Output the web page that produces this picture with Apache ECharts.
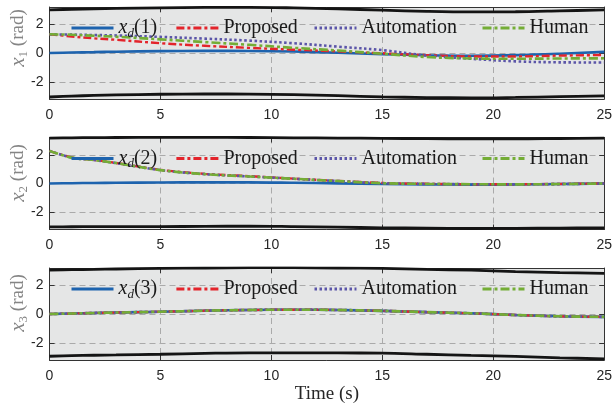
<!DOCTYPE html>
<html>
<head>
<meta charset="utf-8">
<script src="https://cdn.jsdelivr.net/npm/echarts@6/dist/echarts.min.js"></script>
<style>
html,body{margin:0;padding:0;background:#fff;}
#chart{width:615px;height:412px;}
</style>
</head>
<body>
<div id="chart"></div>
<script>
// sample times (s)
const time = [0, 1, 2, 3, 5, 7, 9, 11, 13, 15, 17, 19, 21, 23, 25];

// joint 1
const xd1         = [0, 0.03, 0.06, 0.09, 0.13, 0.15, 0.14, 0.10, 0.02, -0.08, -0.16, -0.19, -0.15, -0.05, 0.08];
const proposed1   = [1.30, 1.15, 1.02, 0.92, 0.68, 0.50, 0.36, 0.23, 0.11, -0.02, -0.15, -0.24, -0.24, -0.18, -0.14];
const automation1 = [1.30, 1.28, 1.25, 1.22, 1.12, 1.00, 0.86, 0.68, 0.44, 0.20, -0.18, -0.40, -0.58, -0.65, -0.66];
const human1      = [1.30, 1.27, 1.20, 1.13, 0.95, 0.76, 0.57, 0.36, 0.17, -0.05, -0.28, -0.38, -0.40, -0.38, -0.37];
const upper1      = [3.00, 3.04, 3.07, 3.10, 3.14, 3.17, 3.18, 3.14, 3.07, 2.98, 2.90, 2.86, 2.87, 2.93, 3.00];
const lower1      = [-3.06, -3.00, -2.95, -2.92, -2.87, -2.85, -2.86, -2.90, -2.97, -3.05, -3.10, -3.12, -3.09, -3.04, -2.98];

// joint 2
const xd2         = [0, 0.02, 0.04, 0.05, 0.07, 0.08, 0.08, 0.05, 0.01, -0.03, -0.06, -0.08, -0.07, -0.04, 0];
const proposed2   = [2.27, 1.82, 1.64, 1.43, 0.95, 0.67, 0.51, 0.34, 0.18, 0.04, -0.02, -0.05, -0.05, -0.03, 0.01];
const automation2 = [2.27, 1.80, 1.63, 1.42, 0.93, 0.65, 0.49, 0.33, 0.17, 0.02, -0.03, -0.05, -0.06, -0.04, 0];
const human2      = [2.27, 1.80, 1.63, 1.42, 0.93, 0.65, 0.49, 0.33, 0.17, 0.02, -0.03, -0.05, -0.06, -0.04, 0];
const upper2      = [3.16, 3.18, 3.19, 3.20, 3.21, 3.21, 3.20, 3.18, 3.16, 3.14, 3.12, 3.10, 3.10, 3.13, 3.16];
const lower2      = [-3.02, -3.01, -3.00, -3.00, -3.00, -2.98, -2.97, -3.00, -3.04, -3.08, -3.11, -3.13, -3.12, -3.10, -3.09];

// joint 3
const xd3         = [0, 0.03, 0.07, 0.10, 0.16, 0.23, 0.28, 0.30, 0.28, 0.22, 0.13, 0.05, -0.07, -0.16, -0.20];
const proposed3   = [0, 0.03, 0.07, 0.10, 0.16, 0.23, 0.28, 0.30, 0.28, 0.22, 0.13, 0.05, -0.07, -0.16, -0.20];
const automation3 = [0, 0.03, 0.07, 0.10, 0.16, 0.23, 0.28, 0.30, 0.28, 0.22, 0.13, 0.05, -0.07, -0.16, -0.20];
const human3      = [0, 0.03, 0.07, 0.10, 0.16, 0.23, 0.28, 0.30, 0.28, 0.22, 0.13, 0.05, -0.07, -0.16, -0.20];
const upper3      = [3.05, 3.08, 3.10, 3.13, 3.17, 3.20, 3.22, 3.22, 3.20, 3.17, 3.10, 3.05, 2.95, 2.88, 2.83];
const lower3      = [-2.94, -2.90, -2.87, -2.85, -2.80, -2.74, -2.70, -2.70, -2.71, -2.72, -2.80, -2.88, -2.95, -3.05, -3.12];

// axes
const xTicks = [0, 5, 10, 15, 20, 25];
const yTicks = [-2, 0, 2];
const yRange = [-3.2, 3.2];
const seriesNames = ['Proposed', 'Automation', 'Human'];
const refNames = ['xd1', 'xd2', 'xd3'];

const panels = [
  {xd: xd1, p: proposed1, a: automation1, h: human1, up: upper1, lo: lower1},
  {xd: xd2, p: proposed2, a: automation2, h: human2, up: upper2, lo: lower2},
  {xd: xd3, p: proposed3, a: automation3, h: human3, up: upper3, lo: lower3}
];

const gridTops = [7, 137.5, 268];
const gridH = 92;
const gridLeft = 49.5;
const gridW = 560;

const pair = arr => arr.map((v, i) => [time[i], v]);

const tickColor = '#262626';
const serif = '"Liberation Serif", "Times New Roman", serif';
const sans = '"Liberation Sans", Arial, sans-serif';

const styles = {
  ref:  {color: '#1d63ae', width: 2.6, type: 'solid'},
  Proposed:   {color: '#e3242b', width: 2.4, type: [8, 3, 3, 3]},
  Automation: {color: '#5b55a8', width: 2.6, type: [2.5, 2.5]},
  Human:      {color: '#74ad36', width: 2.6, type: [9, 3, 3, 3]}
};

const grid = [], xAxis = [], yAxis = [], series = [], legend = [], graphic = [];

panels.forEach((pn, k) => {
  grid.push({left: gridLeft, top: gridTops[k], width: gridW, height: gridH,
    show: true, backgroundColor: '#e5e6e6', borderWidth: 0});

  // bottom axis with labels
  xAxis.push({
    type: 'value', gridIndex: k, min: xTicks[0], max: xTicks[xTicks.length - 1], interval: 5,
    position: 'bottom',
    axisLine: {show: true, onZero: false, lineStyle: {color: '#333', width: 1}},
    axisTick: {show: true, inside: true, length: 5, lineStyle: {color: '#333'}},
    axisLabel: {show: true, margin: 9, color: tickColor, fontFamily: sans, fontSize: 14},
    splitLine: {show: true, lineStyle: {color: '#aaaaaa', type: [6, 4], width: 1}},
    name: k === 2 ? 'Time (s)' : '',
    nameLocation: 'middle', nameGap: 25,
    nameTextStyle: {fontFamily: serif, fontSize: 19, color: tickColor}
  });
  // top border
  xAxis.push({
    type: 'value', gridIndex: k, min: xTicks[0], max: xTicks[xTicks.length - 1], interval: 5,
    position: 'top',
    axisLine: {show: true, onZero: false, lineStyle: {color: '#333', width: 1}},
    axisTick: {show: true, inside: true, length: 5, lineStyle: {color: '#333'}},
    axisLabel: {show: false}, splitLine: {show: false}
  });
  // left axis with labels
  yAxis.push({
    type: 'value', gridIndex: k, min: yRange[0], max: yRange[1],
    position: 'left',
    axisLine: {show: true, onZero: false, lineStyle: {color: '#333', width: 1}},
    axisTick: {show: true, inside: true, length: 5, customValues: yTicks, lineStyle: {color: '#333'}},
    axisLabel: {show: true, margin: 6, customValues: yTicks, color: tickColor, fontFamily: sans, fontSize: 14},
    splitLine: {show: true, lineStyle: {color: '#aaaaaa', type: [6, 4], width: 1}}
  });
  // right border
  yAxis.push({
    type: 'value', gridIndex: k, min: yRange[0], max: yRange[1],
    position: 'right',
    axisLine: {show: true, onZero: false, lineStyle: {color: '#333', width: 1}},
    axisTick: {show: true, inside: true, length: 5, customValues: yTicks, lineStyle: {color: '#333'}},
    axisLabel: {show: false}, splitLine: {show: false}
  });

  const xi = 2 * k, yi = 2 * k;
  const base = {type: 'line', xAxisIndex: xi, yAxisIndex: yi, symbol: 'none', smooth: 0.35,
    animation: false, silent: true};

  ['up', 'lo'].forEach(b => series.push(Object.assign({}, base, {
    name: 'bound' + k + b, data: pair(pn[b]),
    lineStyle: {color: '#141414', width: 2.8}
  })));

  series.push(Object.assign({}, base, {name: refNames[k], data: pair(pn.xd),
    itemStyle: {color: styles.ref.color}, lineStyle: styles.ref}));
  series.push(Object.assign({}, base, {name: 'Proposed', data: pair(pn.p),
    itemStyle: {color: styles.Proposed.color}, lineStyle: styles.Proposed}));
  series.push(Object.assign({}, base, {name: 'Automation', data: pair(pn.a),
    itemStyle: {color: styles.Automation.color}, lineStyle: styles.Automation}));
  series.push(Object.assign({}, base, {name: 'Human', data: pair(pn.h),
    itemStyle: {color: styles.Human.color}, lineStyle: styles.Human}));

  // legend row inside the panel
  const rowY = gridTops[k] + 20;
  const lefts = [70, 175, 313, 481];
  const names = [refNames[k]].concat(seriesNames);
  const legendStyles = [styles.ref, styles.Proposed, styles.Automation, styles.Human];
  names.forEach((nm, j) => {
    const ls = legendStyles[j];
    legend.push({
      data: [nm], left: lefts[j], top: rowY - 9, padding: 0,
      itemWidth: 42, itemHeight: 12, itemGap: 0, selectedMode: false,
      itemStyle: {opacity: 0, borderWidth: 0},
      lineStyle: {color: ls.color, width: ls.width + 0.4, type: ls.type, opacity: 1},
      textStyle: {fontFamily: serif, fontSize: 20, color: '#1a1a1a',
        rich: {
          i: {fontFamily: serif, fontStyle: 'italic', fontSize: 20, color: '#1a1a1a', lineHeight: 24},
          s: {fontFamily: serif, fontStyle: 'italic', fontSize: 13, color: '#1a1a1a', verticalAlign: 'bottom', lineHeight: 24},
          n: {fontFamily: serif, fontSize: 20, color: '#1a1a1a', lineHeight: 24}
        }},
      formatter: name => name.startsWith('xd') ? '{i|x}{s|d}{n|(' + name.slice(2) + ')}' : name
    });
  });

  // y-axis title
  const labelCenters = [38, 173, 303];
  graphic.push({
    type: 'text', x: 18, y: labelCenters[k], rotation: Math.PI / 2, silent: true,
    style: {
      text: '{x|x}{s|' + (k + 1) + '}{r| (rad)}',
      align: 'center', verticalAlign: 'middle',
      rich: {
        x: {fontFamily: serif, fontStyle: 'italic', fontSize: 21, fill: '#858585', lineHeight: 24},
        s: {fontFamily: serif, fontSize: 13, fill: '#858585', verticalAlign: 'bottom', lineHeight: 24},
        r: {fontFamily: serif, fontSize: 19, fill: '#858585', lineHeight: 24}
      }
    }
  });
});

const chart = echarts.init(document.getElementById('chart'), null, {renderer: 'canvas'});
chart.setOption({
  animation: false,
  backgroundColor: '#ffffff',
  grid, xAxis, yAxis, series, legend, graphic
});
</script>
</body>
</html>
